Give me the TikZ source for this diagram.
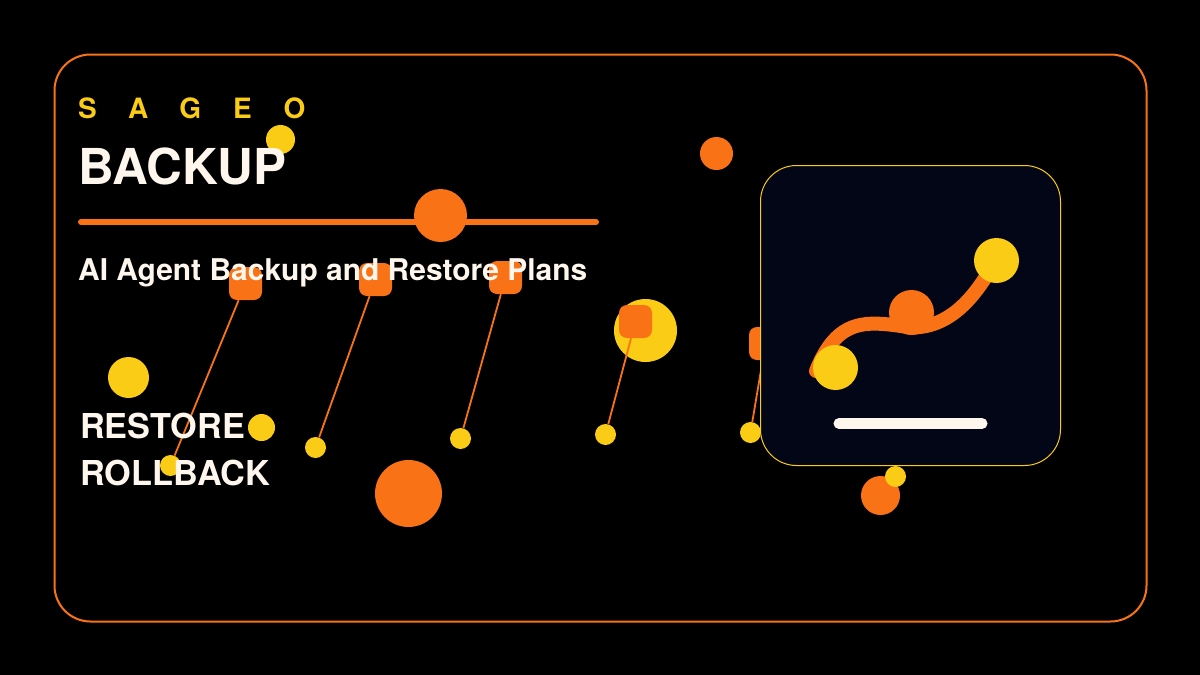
\documentclass[tikz,border=0pt]{standalone}
\usepackage{fontspec}
\setmainfont{TeX Gyre Heros}
\newfontfamily\spacedfont[LetterSpace=114]{TeX Gyre Heros}
\definecolor{sunorange}{HTML}{F97316}
\definecolor{sunyellow}{HTML}{FACC15}
\definecolor{cream}{HTML}{FFF7ED}
\definecolor{panelblue}{HTML}{020617}
\tikzset{
  blob/.style={circle, inner sep=0pt, minimum size=#1},
  pin/.style={fill=sunyellow, blob=21pt},
  tag/.style={fill=sunorange, rounded corners=8pt, inner sep=0pt, minimum size=33pt},
  wire/.style={draw=sunorange, line width=1.8pt},
  words/.style={text=cream, inner sep=0pt, anchor=base west, font=\bfseries\fontsize{#1}{#1}\selectfont}
}
\begin{document}
\begin{tikzpicture}[x=1pt,y=-1pt]
\useasboundingbox (0,0) rectangle (1200,675);
\fill[black] (0,0) rectangle (1200,675);
\coordinate (barl) at (81,222);
\coordinate (barr) at (596,222);
\coordinate (linestart) at (816,371);
\coordinate (linemid) at (911,327.5);
\coordinate (lineend) at (996,260);
\coordinate (capl) at (839,423.5);
\coordinate (capr) at (982,423.5);
% draws frame
\node[draw=sunorange, line width=2pt, rounded corners=36pt, inner sep=0pt, minimum width=1092pt, minimum height=567pt] (frame) at (600.5,338) {};
% draws loose circles
\node[fill=sunyellow, blob=29pt] (ya) at (280.5,139.5) {};
\node[fill=sunorange, blob=33pt] (oa) at (716.5,153.5) {};
\node[fill=sunyellow, blob=63pt] (yb) at (645.5,330.5) {};
\node[fill=sunyellow, blob=41pt] (yc) at (128.5,377.5) {};
\node[fill=sunyellow, blob=27pt] (yd) at (261.5,427.5) {};
\node[fill=sunorange, blob=67pt] (ob) at (408.5,493.5) {};
\node[fill=sunorange, blob=39pt] (oc) at (880.5,495.5) {};
\node[pin] (ye) at (895.5,476.5) {};
% draws rule
\draw[sunorange, line width=6pt, line cap=round] (barl) -- (barr);
\node[fill=sunorange, blob=53pt] (od) at (440.5,215.5) {};
% draws tags and pins
\node[tag] (taga) at (245.5,283.5) {};
\node[tag] (tagb) at (375.5,279.5) {};
\node[tag] (tagc) at (505.5,277.5) {};
\node[tag] (tagd) at (635.5,321.5) {};
\node[tag] (tage) at (765.5,343.5) {};
\node[pin] (pina) at (170.5,465.5) {};
\node[pin] (pinb) at (315.5,447.5) {};
\node[pin] (pinc) at (460.5,438.5) {};
\node[pin] (pind) at (605.5,434.5) {};
\node[pin] (pine) at (750.5,432.5) {};
\draw[wire] (taga) -- (pina);
\draw[wire] (tagb) -- (pinb);
\draw[wire] (tagc) -- (pinc);
\draw[wire] (tagd) -- (pind);
\draw[wire] (tage) -- (pine);
% draws panel
\node[draw=sunyellow, fill=panelblue, line width=1pt, rounded corners=36pt, inner sep=0pt, minimum size=300pt] (panel) at (910.5,315.5) {};
\node[fill=sunorange, blob=45pt] (knob) at (911.5,312.5) {};
\draw[sunorange, line width=14pt, line cap=round] (linestart) .. controls (838,316) and (868,321) .. (linemid) .. controls (955,328) and (980,288) .. (lineend);
\node[fill=sunyellow, blob=45pt] (dotl) at (835.5,367.5) {};
\node[fill=sunyellow, blob=45pt] (dotr) at (996.5,260.5) {};
\draw[cream, line width=11pt, line cap=round] (capl) -- (capr);
% draws texts
\node[words=28, text=sunyellow] (brand) at (78,118) {\spacedfont SAGEO};
\node[words=49.5] (title) at (78,184) {BACKUP};
\node[words=29.95] (sub) at (78,280.5) {AI Agent Backup and Restore Plans};
\node[words=34.3] (rest) at (80,438) {RESTORE};
\node[words=34.3] (roll) at (80,485.5) {ROLLBACK};
\end{tikzpicture}
\end{document}
